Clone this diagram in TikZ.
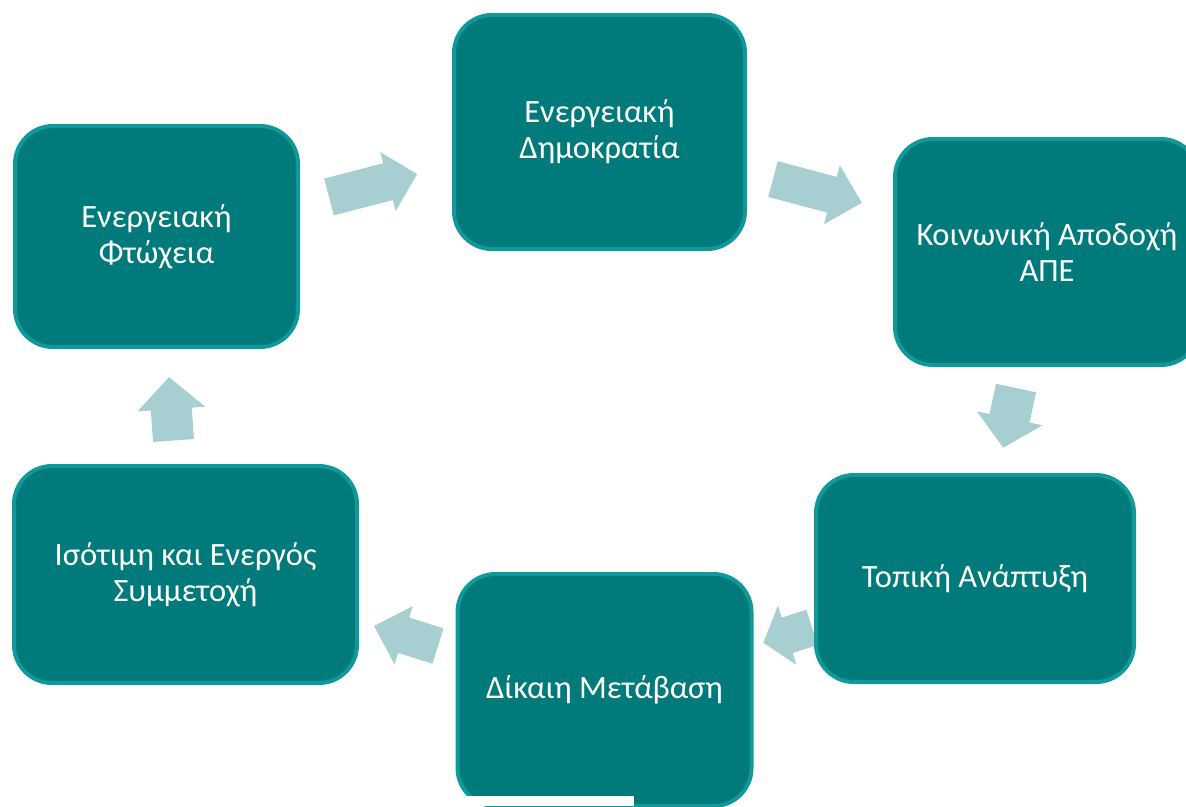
\documentclass[tikz,border=0pt]{standalone}
\usepackage{fontspec}
\setmainfont{Carlito}
\definecolor{boxfill}{HTML}{007A7B}
\definecolor{boxedge}{HTML}{10999B}
\definecolor{arrowfill}{HTML}{A7CFD2}
\tikzset{
  cyclebox/.style={draw=boxedge, fill=boxfill, line width=4pt, rounded corners=38pt,
    text=white, align=center, font=\fontsize{32.5}{36}\selectfont, inner sep=0pt},
  pics/blockarrow/.style args={#1/#2/#3/#4}{code={
    \fill[arrowfill] (0,-#2) -- ({#1-#4},-#2) -- ({#1-#4},-#3) -- (#1,0)
      -- ({#1-#4},#3) -- ({#1-#4},#2) -- (0,#2) -- cycle;
  }}
}
\begin{document}
\begin{tikzpicture}[x=1pt,y=-1pt]
\useasboundingbox (0,0) rectangle (1186,806);
\clip (0,0) rectangle (1186,806);
% block arrows (connectors)
\pic[rotate=14.6] (a1) at (329,197) {blockarrow={91/19/30.5/30}};
\pic[rotate=-15] (a2) at (773,179) {blockarrow={92/18.5/30.5/31}};
\pic[rotate=-102] (a3) at (1016,388) {blockarrow={61/20.5/33.5/30}};
\pic[rotate=-162.6] (a4) at (812,627.5) {blockarrow={51/18.5/31/25}};
\pic[rotate=162.6] (a5) at (438,646) {blockarrow={67/18.5/30.5/31}};
\pic[rotate=94] (a6) at (173.5,440.5) {blockarrow={63.5/20.5/34/32}};
% boxes
\node[cyclebox, minimum width=283pt, minimum height=221pt] (ftw) at (156.5,236.5) {Ενεργειακή\\Φτώχεια};
\node[cyclebox, minimum width=291pt, minimum height=234pt] (dim) at (599.5,132) {Ενεργειακή\\Δημοκρατία};
\node[cyclebox, minimum width=304pt, minimum height=226pt] (koi) at (1047,252) {Κοινωνική Αποδοχή\\ΑΠΕ};
\node[cyclebox, minimum width=318pt, minimum height=207pt] (top) at (975,578.5) {Τοπική Ανάπτυξη};
\node[cyclebox, minimum width=294pt, minimum height=232pt] (dik) at (604.5,690) {Δίκαιη Μετάβαση};
\node[cyclebox, minimum width=343pt, minimum height=217pt] (iso) at (185.5,574.5) {Ισότιμη και Ενεργός\\Συμμετοχή};
\fill[white] (453,796) rectangle (634,806);
\end{tikzpicture}
\end{document}
